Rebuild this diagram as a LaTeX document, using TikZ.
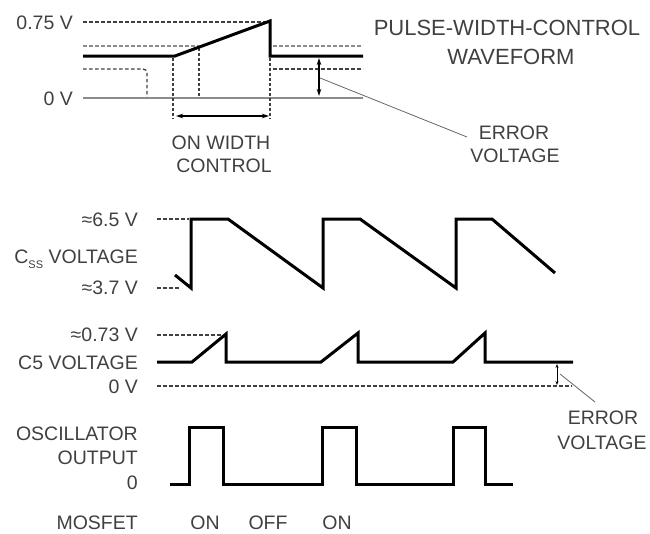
\documentclass[tikz,border=0pt]{standalone}
\usepackage{fontspec}
\setmainfont{Liberation Sans}
\usetikzlibrary{arrows.meta}
\begin{document}
\begin{tikzpicture}[x=1pt,y=-1pt,
  lbl/.style={font=\fontsize{19.5}{20}\selectfont, text=black!75, inner sep=0pt, text height=14pt, text depth=0pt},
  ttl/.style={font=\fontsize{22}{24}\selectfont, text=black!75, inner sep=0pt, text height=15.8pt, text depth=0pt},
  wave/.style={line width=3pt, line join=miter, line cap=butt, black},
  dsh/.style={line width=1.3pt, dash pattern=on 3.5pt off 2.5pt, black!75},
  gdsh/.style={line width=1.3pt, dash pattern=on 3.5pt off 2.5pt, black!45},
  dots/.style={line width=1.3pt, dash pattern=on 2.5pt off 2.5pt, black!75},
  dim/.style={line width=1.2pt, {Stealth[length=7pt,width=4.5pt]}-{Stealth[length=7pt,width=4.5pt]}},
  dimsm/.style={line width=1pt, {Stealth[length=4pt,width=3pt]}-{Stealth[length=4pt,width=3pt]}},
  leader/.style={line width=0.8pt, black!60}]
\useasboundingbox (0,0) rectangle (650,533);

% ---------- top: pulse-width-control waveform ----------
\node[lbl, anchor=east] (l075) at (73,22) {0.75 V};
\node[lbl, anchor=east] (l0top) at (73,98) {0 V};
\draw[dsh] (83,22) -- (268,22);
\draw[gdsh] (83,46) -- (199,46);
\draw[gdsh] (273,46) -- (363,46);
\draw[dsh, rounded corners=4pt] (83,69) -- (147,69) -- (147,97);
\draw[dsh] (273,69) -- (363,69);
\draw[line width=2.5pt, black!45] (83,98) -- (363,98);
\draw[dots] (173,58) -- (173,119);
\draw[dots] (199,48) -- (199,97);
\draw[dots] (270,58) -- (270,119);
\draw[wave] (83,56) -- (175,56) -- (270,21) -- (270,56) -- (363,56);
\draw[dim] (176,116) -- (269,116);
\draw[dim] (319,58) -- (319,96);
\node[ttl] (title1) at (507,28) {PULSE-WIDTH-CONTROL};
\node[ttl] (title2) at (511,57) {WAVEFORM};
\node[lbl] (onw1) at (221,142) {ON WIDTH};
\node[lbl] (onw2) at (224,165) {CONTROL};
\node[lbl] (err1a) at (514,132) {ERROR};
\node[lbl] (err1b) at (515,155) {VOLTAGE};
\coordinate (lead1s) at (320,78);
\coordinate (lead1e) at (467,137);
\draw[leader] (lead1s) -- (lead1e);

% ---------- Css voltage ----------
\node[lbl, anchor=east] (l65) at (138,219) {≈6.5 V};
\node[lbl, anchor=east] (lcss) at (138,256) {C\raisebox{-0.3em}{\fontsize{11}{12}\selectfont SS} VOLTAGE};
\node[lbl, anchor=east] (l37) at (138,287) {≈3.7 V};
\draw[dsh] (157,219) -- (189,219);
\draw[dsh] (157,288) -- (180,288);
\draw[wave] (175,275) -- (191,288) -- (191,219) -- (228,219) -- (323,288) -- (323,219)
  -- (360,219) -- (456,288) -- (456,219) -- (492,219) -- (555,273);

% ---------- C5 voltage ----------
\node[lbl, anchor=east] (l073) at (138,334) {≈0.73 V};
\node[lbl, anchor=east] (lc5) at (138,362) {C5 VOLTAGE};
\node[lbl, anchor=east] (l0c5) at (138,386) {0 V};
\draw[dsh] (157,335) -- (222,335);
\draw[dsh] (157,386) -- (572,386);
\draw[wave] (157,362) -- (192,362) -- (226,334) -- (226,362) -- (321,362) -- (358,333)
  -- (358,362) -- (453,362) -- (485,333) -- (485,362) -- (573,362);
\draw[dimsm] (557,364) -- (557,385);
\coordinate (lead2s) at (560,374);
\coordinate (lead2e) at (595,402);
\draw[leader] (lead2s) -- (lead2e);
\node[lbl] (err2a) at (603,417) {ERROR};
\node[lbl] (err2b) at (602,442) {VOLTAGE};

% ---------- oscillator output ----------
\node[lbl, anchor=east] (losc) at (138,433) {OSCILLATOR};
\node[lbl, anchor=east] (lout) at (138,457) {OUTPUT};
\node[lbl, anchor=east] (lzero) at (138,482) {0};
\draw[wave] (170,484) -- (189,484) -- (189,427) -- (223,427) -- (223,484) -- (322,484)
  -- (322,427) -- (356,427) -- (356,484) -- (453,484) -- (453,427) -- (485,427)
  -- (485,484) -- (513,484);

% ---------- MOSFET row ----------
\node[lbl, anchor=east] (lmos) at (138,522) {MOSFET};
\node[lbl] (on1) at (205,522) {ON};
\node[lbl] (off1) at (268,522) {OFF};
\node[lbl] (on2) at (337,522) {ON};
\end{tikzpicture}
\end{document}
